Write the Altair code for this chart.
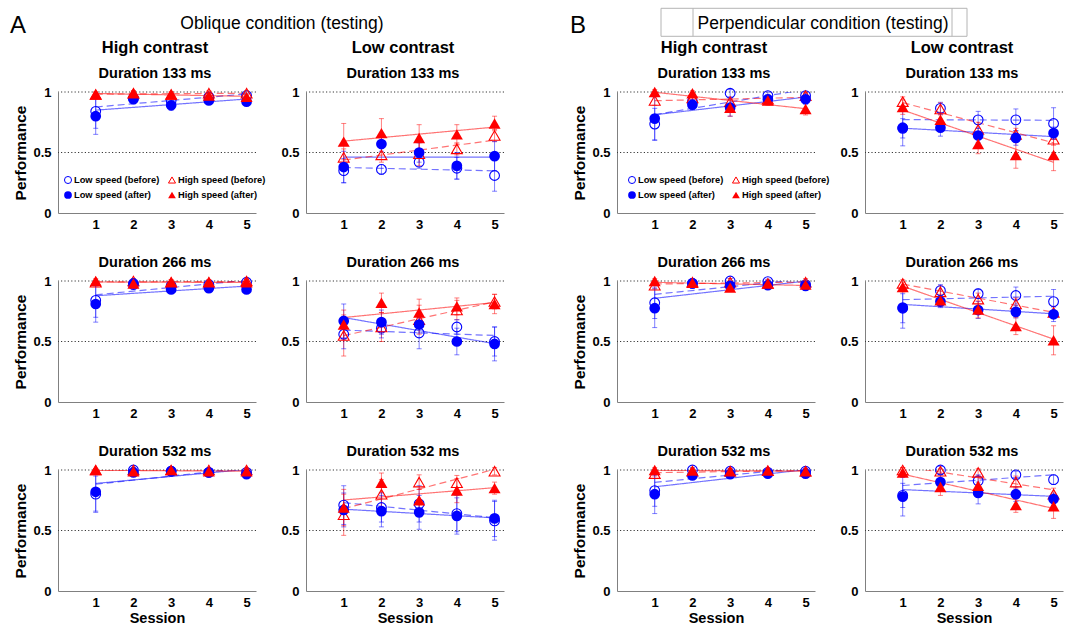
import altair as alt
import pandas as pd

# ---------------- data ----------------
SERIES = ["Low speed (before)", "Low speed (after)", "High speed (before)", "High speed (after)"]
SESSIONS = [1, 2, 3, 4, 5]
CONDITIONS = ["Oblique condition (testing)", "Perpendicular condition (testing)"]
PANEL_LETTERS = ["A", "B"]
CONTRASTS = ["High contrast", "Low contrast"]
DURATIONS = ["Duration 133 ms", "Duration 266 ms", "Duration 532 ms"]
Y_TICKS = [0, 0.5, 1]
REF_LEVELS = [0.5, 1]

# each panel: rows in SERIES order (LB, LA, HB, HA), columns = sessions 1..5
OBL_HI_133 = [[0.84, 0.95, 0.93, 0.96, 0.97], [0.80, 0.94, 0.89, 0.93, 0.92],
              [0.98, 0.99, 0.98, 0.99, 0.99], [0.98, 0.99, 0.98, 0.97, 0.96]]
OBL_HI_133_ERR = [[0.14, 0.03, 0.03, 0.02, 0.02], [0.15, 0.03, 0.04, 0.03, 0.03],
                  [0.02, 0.02, 0.02, 0.02, 0.02], [0.02, 0.02, 0.02, 0.02, 0.02]]
OBL_LO_133 = [[0.35, 0.36, 0.42, 0.37, 0.31], [0.38, 0.57, 0.50, 0.39, 0.47],
              [0.46, 0.48, 0.49, 0.53, 0.64], [0.59, 0.66, 0.62, 0.65, 0.74]]
OBL_LO_133_ERR = [[0.10, 0.04, 0.05, 0.09, 0.13], [0.13, 0.06, 0.08, 0.11, 0.12],
                  [0.07, 0.06, 0.10, 0.05, 0.05], [0.15, 0.12, 0.11, 0.08, 0.06]]
OBL_HI_266 = [[0.84, 0.97, 0.96, 0.97, 0.99], [0.81, 0.98, 0.93, 0.94, 0.93],
              [0.99, 1.00, 0.99, 0.99, 1.00], [1.00, 0.98, 0.99, 0.99, 0.99]]
OBL_HI_266_ERR = [[0.14, 0.03, 0.03, 0.02, 0.02], [0.15, 0.03, 0.03, 0.03, 0.03],
                  [0.02, 0.02, 0.02, 0.02, 0.02], [0.02, 0.02, 0.02, 0.02, 0.02]]
OBL_LO_266 = [[0.56, 0.61, 0.57, 0.62, 0.50], [0.67, 0.66, 0.64, 0.50, 0.48],
              [0.55, 0.62, 0.68, 0.76, 0.83], [0.64, 0.82, 0.74, 0.79, 0.81]]
OBL_LO_266_ERR = [[0.12, 0.08, 0.13, 0.06, 0.12], [0.14, 0.10, 0.07, 0.11, 0.14],
                  [0.17, 0.12, 0.12, 0.08, 0.06], [0.12, 0.08, 0.11, 0.07, 0.08]]
OBL_HI_532 = [[0.80, 1.00, 0.99, 0.98, 0.98], [0.82, 0.98, 0.99, 0.98, 0.965],
              [1.00, 1.00, 1.00, 1.00, 1.00], [1.00, 0.99, 1.00, 0.99, 0.99]]
OBL_HI_532_ERR = [[0.15, 0.02, 0.02, 0.02, 0.02], [0.16, 0.03, 0.02, 0.02, 0.02],
                  [0.01, 0.01, 0.01, 0.01, 0.01], [0.01, 0.01, 0.01, 0.01, 0.01]]
OBL_LO_532 = [[0.71, 0.69, 0.72, 0.64, 0.58], [0.67, 0.66, 0.65, 0.62, 0.60],
              [0.63, 0.80, 0.90, 0.895, 0.99], [0.69, 0.895, 0.75, 0.83, 0.85]]
OBL_LO_532_ERR = [[0.16, 0.12, 0.15, 0.15, 0.16], [0.14, 0.13, 0.14, 0.15, 0.15],
                  [0.17, 0.12, 0.06, 0.06, 0.03], [0.15, 0.08, 0.09, 0.10, 0.05]]

PER_HI_133 = [[0.735, 0.92, 0.99, 0.97, 0.97], [0.78, 0.895, 0.87, 0.94, 0.94],
              [0.93, 0.95, 0.92, 0.94, 0.97], [1.00, 0.99, 0.87, 0.93, 0.86]]
PER_HI_133_ERR = [[0.13, 0.04, 0.03, 0.03, 0.02], [0.18, 0.04, 0.07, 0.04, 0.04],
                  [0.04, 0.03, 0.03, 0.03, 0.03], [0.02, 0.02, 0.07, 0.04, 0.05]]
PER_LO_133 = [[0.70, 0.865, 0.77, 0.77, 0.74], [0.705, 0.705, 0.64, 0.62, 0.66],
              [0.92, 0.86, 0.69, 0.65, 0.61], [0.875, 0.77, 0.57, 0.48, 0.48]]
PER_LO_133_ERR = [[0.08, 0.05, 0.07, 0.09, 0.13], [0.15, 0.07, 0.06, 0.06, 0.05],
                  [0.04, 0.05, 0.06, 0.05, 0.05], [0.06, 0.06, 0.08, 0.11, 0.13]]
PER_HI_266 = [[0.82, 0.98, 1.00, 0.995, 0.97], [0.775, 0.98, 0.96, 0.965, 0.96],
              [0.965, 0.99, 0.99, 0.98, 0.99], [1.00, 0.985, 0.945, 0.98, 0.97]]
PER_HI_266_ERR = [[0.13, 0.03, 0.02, 0.02, 0.03], [0.16, 0.03, 0.03, 0.03, 0.03],
                  [0.03, 0.03, 0.03, 0.03, 0.03], [0.02, 0.02, 0.02, 0.02, 0.02]]
PER_LO_266 = [[0.775, 0.92, 0.895, 0.88, 0.83], [0.78, 0.83, 0.76, 0.745, 0.725],
              [0.98, 0.91, 0.85, 0.81, 0.74], [0.95, 0.84, 0.765, 0.627, 0.51]]
PER_LO_266_ERR = [[0.12, 0.05, 0.04, 0.07, 0.10], [0.17, 0.05, 0.07, 0.05, 0.06],
                  [0.03, 0.05, 0.05, 0.05, 0.05], [0.04, 0.05, 0.07, 0.07, 0.12]]
PER_HI_532 = [[0.83, 1.00, 0.99, 0.98, 0.99], [0.80, 0.955, 0.965, 0.97, 0.97],
              [0.97, 0.99, 0.99, 0.995, 0.99], [1.00, 0.995, 0.99, 0.995, 0.99]]
PER_HI_532_ERR = [[0.13, 0.02, 0.02, 0.02, 0.02], [0.16, 0.03, 0.03, 0.02, 0.02],
                  [0.02, 0.02, 0.02, 0.02, 0.02], [0.02, 0.02, 0.02, 0.02, 0.02]]
PER_LO_532 = [[0.79, 1.00, 0.91, 0.96, 0.92], [0.78, 0.90, 0.81, 0.80, 0.76],
              [1.00, 0.99, 0.98, 0.90, 0.80], [0.98, 0.86, 0.87, 0.71, 0.70]]
PER_LO_532_ERR = [[0.10, 0.03, 0.05, 0.03, 0.04], [0.16, 0.06, 0.09, 0.06, 0.05],
                  [0.02, 0.02, 0.03, 0.05, 0.05], [0.04, 0.07, 0.08, 0.06, 0.10]]

GRID = [
    [(OBL_HI_133, OBL_HI_133_ERR), (OBL_LO_133, OBL_LO_133_ERR), (PER_HI_133, PER_HI_133_ERR), (PER_LO_133, PER_LO_133_ERR)],
    [(OBL_HI_266, OBL_HI_266_ERR), (OBL_LO_266, OBL_LO_266_ERR), (PER_HI_266, PER_HI_266_ERR), (PER_LO_266, PER_LO_266_ERR)],
    [(OBL_HI_532, OBL_HI_532_ERR), (OBL_LO_532, OBL_LO_532_ERR), (PER_HI_532, PER_HI_532_ERR), (PER_LO_532, PER_LO_532_ERR)],
]

# ---------------- styling ----------------
FONT = "Liberation Sans"
BLUE, RED = "#0000ff", "#ff0000"
COLORS = [BLUE, BLUE, RED, RED]
SHAPES = ["circle", "circle", "triangle-up", "triangle-up"]
FILLED = [False, True, False, True]
SIZES = [95, 115, 120, 145]
DASHES = [[7, 4], [1, 0], [7, 4], [1, 0]]
W, H = 198, 121
XDOM = [0, 5.25]

xs = alt.Scale(domain=XDOM, nice=False, zero=False)
ys = alt.Scale(domain=[0, 1], nice=False)
color_scale = alt.Scale(domain=SERIES, range=COLORS)
dash_scale = alt.Scale(domain=SERIES, range=DASHES)
one = pd.DataFrame({"k": [0]})


def x_axis(title):
    return alt.Axis(values=SESSIONS, title=title, labelFontSize=13, labelFontWeight="bold",
                    labelColor="black", ticks=False, domainColor="#808080", domainWidth=1,
                    grid=False, labelPadding=5, titleFontSize=14.5, titleFontWeight="bold",
                    titleColor="black", titlePadding=2)


def y_axis(title):
    return alt.Axis(values=Y_TICKS, format="~g", title=title, labelFontSize=13,
                    labelFontWeight="bold", labelColor="black", ticks=False,
                    domainColor="#808080", domainWidth=1, grid=False, labelPadding=7,
                    titleFontSize=15.5, titleFontWeight="bold", titleColor="black",
                    titlePadding=4)


def make_df(means, errs):
    rows = []
    for s, ml, el in zip(SERIES, means, errs):
        for x, m, e in zip(SESSIONS, ml, el):
            rows.append({"series": s, "session": x, "perf": m, "lo": m - e, "hi": m + e})
    return pd.DataFrame(rows)


def text_layer(text, x, y, size, weight="normal", align="center", baseline="middle"):
    return alt.Chart(one).mark_text(text=text, align=align, baseline=baseline, fontSize=size,
                                    fontWeight=weight, font=FONT, color="black"
                                    ).encode(x=alt.value(x), y=alt.value(y))


def legend_layers(dx):
    layers = []
    pos = [(12 + dx, 88), (12 + dx, 103), (116 + dx, 88), (116 + dx, 103)]
    for i, s in enumerate(SERIES):
        px, py = pos[i]
        layers.append(alt.Chart(one).mark_point(shape=SHAPES[i], filled=FILLED[i], color=COLORS[i],
                                                size=50 if i % 2 == 0 else 60, strokeWidth=1, opacity=1)
                      .encode(x=alt.value(px), y=alt.value(py)))
        layers.append(text_layer(s, px + 6, py, 9.3, "bold", "left"))
    return layers


def panel(r, c):
    means, errs = GRID[r][c]
    df = make_df(means, errs)
    xa = x_axis("Session" if r == 2 else None)
    ya = y_axis("Performance" if c in (0, 2) else None)
    X = alt.X("session:Q", scale=xs, axis=xa)
    base = alt.Chart(df)
    layers = []
    ref = alt.Chart(pd.DataFrame({"v": REF_LEVELS})).mark_rule(
        color="#222222", strokeDash=[1.2, 2.2], strokeWidth=0.9
    ).encode(y=alt.Y("v:Q", scale=ys, axis=ya))
    layers.append(ref)
    reg = base.transform_regression("session", "perf", groupby=["series"]).mark_line(
        clip=True, strokeWidth=1.2, opacity=0.55
    ).encode(
        x=X, y=alt.Y("perf:Q", scale=ys, axis=ya),
        color=alt.Color("series:N", scale=color_scale, legend=None),
        strokeDash=alt.StrokeDash("series:N", scale=dash_scale, legend=None),
    )
    layers.append(reg)
    err = base.mark_rule(strokeWidth=1, opacity=0.5).encode(
        x=X, y=alt.Y("lo:Q", scale=ys, axis=ya), y2="hi:Q",
        color=alt.Color("series:N", scale=color_scale, legend=None))
    cap_lo = base.mark_tick(orient="horizontal", size=5, thickness=1, opacity=0.5).encode(
        x=X, y=alt.Y("lo:Q", scale=ys, axis=ya),
        color=alt.Color("series:N", scale=color_scale, legend=None))
    cap_hi = base.mark_tick(orient="horizontal", size=5, thickness=1, opacity=0.5).encode(
        x=X, y=alt.Y("hi:Q", scale=ys, axis=ya),
        color=alt.Color("series:N", scale=color_scale, legend=None))
    layers += [err, cap_lo, cap_hi]
    for i in [0, 2, 1, 3]:
        s = SERIES[i]
        pts = base.transform_filter(alt.datum.series == s).mark_point(
            shape=SHAPES[i], filled=FILLED[i], color=COLORS[i], size=SIZES[i],
            strokeWidth=1.1, opacity=1
        ).encode(x=X, y=alt.Y("perf:Q", scale=ys, axis=ya))
        layers.append(pts)

    # panel headings
    layers.append(text_layer(DURATIONS[r], W / 2 - 2, -18.3, 14.5, "bold"))
    if r == 0:
        layers.append(text_layer(CONTRASTS[c % 2], W / 2 - 2, -43.7, 16.5, "bold"))

    if r == 0 and c == 0:
        layers += legend_layers(-2)
        layers.append(text_layer(PANEL_LETTERS[0], -48, -58.7, 24, "normal", "left", "alphabetic"))
        layers.append(text_layer(CONDITIONS[0], 224, -67.7, 17.5))
    if r == 0 and c == 2:
        layers += legend_layers(3)
        layers.append(alt.Chart(one).mark_rect(fillOpacity=0, stroke="#b4b4b4", strokeWidth=1)
                      .encode(x=alt.value(44), x2=alt.value(350), y=alt.value(-83.7), y2=alt.value(-55.7)))
        for vx in (76, 335):
            layers.append(alt.Chart(one).mark_rule(color="#b4b4b4", strokeWidth=1)
                          .encode(x=alt.value(vx), y=alt.value(-83.7), y2=alt.value(-55.7)))
        layers.append(text_layer(PANEL_LETTERS[1], -47, -58.7, 24, "normal", "left", "alphabetic"))
        layers.append(text_layer(CONDITIONS[1], 206, -67.7, 17.5))

    return alt.layer(*layers).properties(width=W, height=H)


def spacer():
    return alt.Chart(one).mark_point(opacity=0).encode(
        x=alt.value(0), y=alt.value(0)).properties(width=13, height=H)


cells = []
for r in range(3):
    cells += [panel(r, 0), panel(r, 1), spacer(), panel(r, 2), panel(r, 3)]

chart = alt.concat(
    *cells, columns=5, spacing=alt.RowColnumber(row=68, column=50), bounds="flush", align="each"
).properties(
    padding={"left": 10, "top": 7, "right": 5, "bottom": 2}
).configure(font=FONT).configure_view(stroke=None)

chart.save("out.html", embed_options={"renderer": "svg", "actions": False})
